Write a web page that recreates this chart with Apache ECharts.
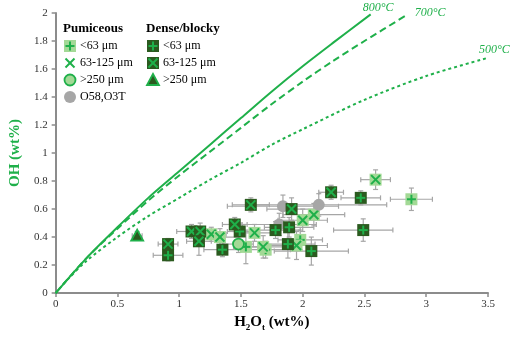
<!DOCTYPE html>
<html>
<head>
<meta charset="utf-8">
<script src="https://cdn.jsdelivr.net/npm/echarts@6/dist/echarts.min.js"></script>
<style>
  html, body { margin: 0; padding: 0; background: #fff; }
  #box { width: 512px; height: 337px; }
</style>
</head>
<body>
<div id="box"></div>
<script>
// 曲线 (speciation curves): x = H2Ot, y = OH
var curve800 = [[0, 0], [0.25, 0.25], [0.5, 0.47], [0.75, 0.68], [1.0, 0.87], [1.25, 1.06], [1.5, 1.25], [1.75, 1.44], [2.0, 1.62], [2.25, 1.79], [2.55, 1.99]];
var curve700 = [[0, 0], [0.25, 0.25], [0.5, 0.46], [0.75, 0.66], [1.0, 0.84], [1.25, 1.01], [1.5, 1.18], [1.75, 1.35], [2.0, 1.51], [2.25, 1.66], [2.5, 1.8], [2.85, 1.99]];
var curve500 = [[0, 0], [0.1, 0.1], [0.25, 0.23], [0.5, 0.4], [0.75, 0.55], [1.0, 0.68], [1.25, 0.81], [1.5, 0.93], [1.75, 1.06], [2.0, 1.17], [2.5, 1.38], [3.0, 1.55], [3.5, 1.68]];

// points: [H2Ot, OH, xErr, yErr]
var pumLt63 = [[1.54, 0.33, 0.1, 0.12], [1.7, 0.31, 0.2, 0.06], [1.98, 0.38, 0.18, 0.07], [2.88, 0.67, 0.17, 0.08]];
var pum63 = [[1.26, 0.42, 0.12, 0.05], [1.33, 0.4, 0.15, 0.06], [1.61, 0.43, 0.15, 0.06], [1.68, 0.33, 0.2, 0.08], [1.95, 0.34, 0.25, 0.1], [2.0, 0.52, 0.2, 0.08], [2.09, 0.56, 0.25, 0.08], [2.59, 0.81, 0.12, 0.07]];
var pumGt250 = [[1.48, 0.35, 0.12, 0.06]];
var greyPts = [[1.81, 0.49, 0.3, 0.08], [1.84, 0.62, 0.45, 0.08], [2.13, 0.63, 0.55, 0.08]];
var denseLt63 = [[0.91, 0.27, 0.12, 0.04], [1.35, 0.31, 0.15, 0.05], [1.49, 0.44, 0.1, 0.06], [1.78, 0.45, 0.2, 0.06], [1.89, 0.47, 0.2, 0.07], [1.88, 0.35, 0.22, 0.1], [2.07, 0.3, 0.3, 0.1], [2.47, 0.68, 0.16, 0.05], [2.49, 0.45, 0.24, 0.08]];
var dense63 = [[0.91, 0.35, 0.08, 0.04], [1.1, 0.44, 0.12, 0.05], [1.17, 0.44, 0.08, 0.06], [1.16, 0.37, 0.1, 0.1], [1.45, 0.49, 0.1, 0.05], [1.58, 0.63, 0.15, 0.05], [1.91, 0.6, 0.2, 0.08], [2.23, 0.72, 0.1, 0.05]];
var denseGt250 = [[0.66, 0.41, 0.04, 0.03]];

var xTicks = [0, 3.5, 0.5];   // min, max, interval
var yTicks = [0, 2, 0.2];

var GREEN = "#1fb04a";
var LIGHT = "#a3d996";
var DARK = "#2b5a1f";
var GREY = "#a6a6a6";
var FONT = "Liberation Serif";

var myChart = echarts.init(document.getElementById("box"));

// 画一个标记 (one marker)
function shapeEls(kind, cx, cy, noBox) {
  var h = 6, a = 4.5;
  var els = [];
  var box = function (fill) {
    return { type: "rect", shape: { x: cx - h, y: cy - h, width: 2 * h, height: 2 * h }, style: { fill: fill } };
  };
  var plus = [
    { type: "line", shape: { x1: cx - a, y1: cy, x2: cx + a, y2: cy }, style: { stroke: GREEN, lineWidth: 2 } },
    { type: "line", shape: { x1: cx, y1: cy - a, x2: cx, y2: cy + a }, style: { stroke: GREEN, lineWidth: 2 } }
  ];
  var cross = [
    { type: "line", shape: { x1: cx - a, y1: cy - a, x2: cx + a, y2: cy + a }, style: { stroke: GREEN, lineWidth: 2 } },
    { type: "line", shape: { x1: cx - a, y1: cy + a, x2: cx + a, y2: cy - a }, style: { stroke: GREEN, lineWidth: 2 } }
  ];
  if (kind == "pumPlus") els = [box(LIGHT)].concat(plus);
  if (kind == "pumX") els = (noBox ? [] : [box(LIGHT)]).concat(cross);
  if (kind == "denPlus") els = [box(DARK)].concat(plus);
  if (kind == "denX") els = [box(DARK)].concat(cross);
  if (kind == "pumCircle") els = [{ type: "circle", shape: { cx: cx, cy: cy, r: 5.5 }, style: { fill: LIGHT, stroke: GREEN, lineWidth: 1.8 } }];
  if (kind == "grey") els = [{ type: "circle", shape: { cx: cx, cy: cy, r: 6 }, style: { fill: GREY } }];
  if (kind == "denTri") els = [{ type: "polygon", shape: { points: [[cx, cy - 6], [cx + 6, cy + 5], [cx - 6, cy + 5]] }, style: { fill: DARK, stroke: GREEN, lineWidth: 1.8 } }];
  return els;
}

function markerSeries(name, data, kind) {
  return {
    name: name,
    type: "custom",
    data: data,
    z: 4,
    renderItem: function (params, api) {
      var p = api.coord([api.value(0), api.value(1)]);
      return { type: "group", children: shapeEls(kind, p[0], p[1]) };
    }
  };
}

// 误差线 (error bars)
var allPts = [].concat(pumLt63, pum63, pumGt250, greyPts, denseLt63, dense63, denseGt250);
var errSeries = {
  type: "custom",
  data: allPts,
  z: 2,
  renderItem: function (params, api) {
    var x = api.value(0), y = api.value(1), xe = api.value(2), ye = api.value(3);
    var l = api.coord([x - xe, y]), r = api.coord([x + xe, y]);
    var t = api.coord([x, y + ye]), b = api.coord([x, y - ye]);
    var st = { stroke: GREY, lineWidth: 1.2 };
    var c = 2.5;
    return {
      type: "group",
      children: [
        { type: "line", shape: { x1: l[0], y1: l[1], x2: r[0], y2: r[1] }, style: st },
        { type: "line", shape: { x1: l[0], y1: l[1] - c, x2: l[0], y2: l[1] + c }, style: st },
        { type: "line", shape: { x1: r[0], y1: r[1] - c, x2: r[0], y2: r[1] + c }, style: st },
        { type: "line", shape: { x1: t[0], y1: t[1], x2: b[0], y2: b[1] }, style: st },
        { type: "line", shape: { x1: t[0] - c, y1: t[1], x2: t[0] + c, y2: t[1] }, style: st },
        { type: "line", shape: { x1: b[0] - c, y1: b[1], x2: b[0] + c, y2: b[1] }, style: st }
      ]
    };
  }
};

function curveSeries(data, type, label, offset) {
  return {
    type: "line",
    data: data,
    smooth: 0.3,
    showSymbol: false,
    silent: true,
    z: 3,
    lineStyle: { color: GREEN, width: 2, type: type },
    endLabel: {
      show: true,
      formatter: label,
      offset: offset,
      color: GREEN,
      fontFamily: FONT,
      fontStyle: "italic",
      fontSize: 12
    }
  };
}

// 图例 (legend drawn by hand)
var legendRows = [
  [63, 29, null, "Pumiceous"],
  [70, 46, "pumPlus", "<63 μm"],
  [70, 63, "pumX", "63-125 μm"],
  [70, 80, "pumCircle", ">250 μm"],
  [70, 97, "grey", "O58,O3T"],
  [146, 29, null, "Dense/blocky"],
  [153, 46, "denPlus", "<63 μm"],
  [153, 63, "denX", "63-125 μm"],
  [153, 80, "denTri", ">250 μm"]
];
var legendEls = [];
legendRows.forEach(function (r) {
  if (r[2] == null) {
    legendEls.push({ type: "text", x: r[0], y: r[1], style: { text: r[3], font: "bold 13px " + FONT, fill: "#000", verticalAlign: "middle" } });
  } else {
    legendEls.push({ type: "group", children: shapeEls(r[2], r[0], r[1], true) });
    legendEls.push({ type: "text", x: r[0] + 10, y: r[1], style: { text: r[3], font: "12px " + FONT, fill: "#000", verticalAlign: "middle" } });
  }
});

myChart.setOption({
  animation: false,
  grid: { left: 47, right: 24, top: 13, bottom: 41 },
  xAxis: {
    type: "value",
    min: xTicks[0], max: xTicks[1], interval: xTicks[2],
    name: "H{sub|2}O{sub|t} (wt%)",
    nameLocation: "middle",
    nameGap: 17,
    nameTextStyle: {
      fontFamily: FONT, fontWeight: "bold", fontSize: 15, color: "#000",
      rich: { sub: { fontFamily: FONT, fontWeight: "bold", fontSize: 9, verticalAlign: "bottom", padding: [10, 0, 0, 0] } }
    },
    axisLine: { lineStyle: { color: "#8c8c8c", width: 2 } },
    axisTick: { inside: false, length: 4, lineStyle: { color: "#8c8c8c", width: 1.5 } },
    axisLabel: { fontFamily: FONT, fontSize: 11, color: "#333", margin: 6 },
    splitLine: { show: false }
  },
  yAxis: {
    type: "value",
    min: yTicks[0], max: yTicks[1], interval: yTicks[2],
    name: "OH (wt%)",
    nameLocation: "middle",
    nameRotate: 90,
    nameGap: 32,
    nameTextStyle: { fontFamily: FONT, fontWeight: "bold", fontSize: 15, color: GREEN },
    axisLine: { show: true, lineStyle: { color: "#8c8c8c", width: 2 } },
    axisTick: { show: true, inside: false, length: 4, lineStyle: { color: "#8c8c8c", width: 1.5 } },
    axisLabel: { fontFamily: FONT, fontSize: 11, color: "#333", margin: 8 },
    splitLine: { show: false }
  },
  graphic: legendEls,
  series: [
    curveSeries(curve800, "solid", "800°C", [-16, -7]),
    curveSeries(curve700, [7, 4], "700°C", [-1, -2]),
    curveSeries(curve500, [3, 3], "500°C", [-17, -8]),
    errSeries,
    markerSeries("pumLt63", pumLt63, "pumPlus"),
    markerSeries("pum63", pum63, "pumX"),
    markerSeries("pumGt250", pumGt250, "pumCircle"),
    markerSeries("grey", greyPts, "grey"),
    markerSeries("denseLt63", denseLt63, "denPlus"),
    markerSeries("dense63", dense63, "denX"),
    markerSeries("denseGt250", denseGt250, "denTri")
  ]
});
</script>
</body>
</html>
